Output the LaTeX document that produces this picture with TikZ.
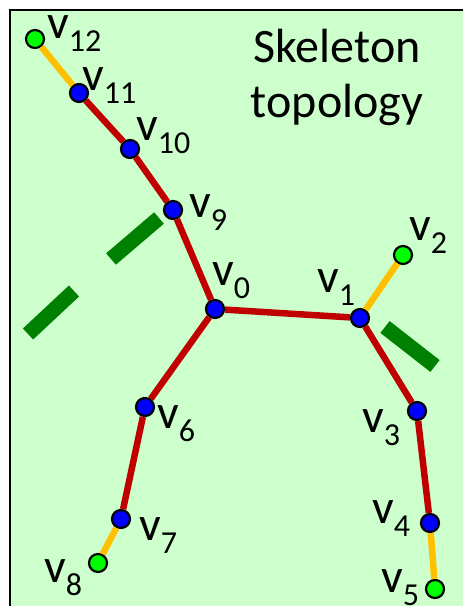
\documentclass[tikz,border=0pt]{standalone}
\usepackage{fontspec}
\setmainfont{Carlito}
\usepackage{xcolor}
\definecolor{panelgreen}{RGB}{204,255,204}
\definecolor{bonered}{RGB}{192,0,0}
\definecolor{tipgold}{RGB}{255,192,0}
\definecolor{jointblue}{RGB}{0,0,255}
\definecolor{tipgreen}{RGB}{0,255,0}
\definecolor{cutgreen}{RGB}{0,128,0}
\newcommand{\vsub}[1]{v\raisebox{-13pt}{\fontsize{32}{32}\selectfont #1}}
\usepackage{tikz}
\usetikzlibrary{positioning}

\begin{document}
\begin{tikzpicture}[x=1pt, y=-1pt,
  joint/.style={circle, draw=black, line width=2.2pt, fill=jointblue, minimum size=18pt, inner sep=0pt},
  endjoint/.style={joint, fill=tipgreen},
  bone/.style={bonered, line width=6.5pt},
  tip/.style={tipgold, line width=6.5pt},
  cut/.style={cutgreen, line width=15pt},
  vlabel/.style={anchor=base west, inner sep=0pt, font=\fontsize{48}{48}\selectfont}
]
\useasboundingbox (0,0) rectangle (463,606);
\clip (0,0) rectangle (463,606);
\draw[fill=panelgreen, line width=2pt] (10,10) rectangle (480,620);
\node[align=center, inner sep=0pt, anchor=north, font=\fontsize{48}{55}\selectfont] (title) at (337,29) {Skeleton\\topology};
% cut marks
\draw[cut] (111,259) -- (159,218);
\draw[cut] (28,334) -- (74,291);
\draw[cut] (385,327) -- (435,366);
% joints
\node[joint] (v0) at (215,309) {};
\node[joint] (v1) at (360,318) {};
\node[endjoint] (v2) at (403,255) {};
\node[joint] (v3) at (417,411) {};
\node[joint] (v4) at (430,523) {};
\node[endjoint] (v5) at (435,589) {};
\node[joint] (v6) at (145,407) {};
\node[joint] (v7) at (121,519) {};
\node[endjoint] (v8) at (98,563) {};
\node[joint] (v9) at (173,210) {};
\node[joint] (v10) at (130,149) {};
\node[joint] (v11) at (79,93) {};
\node[endjoint] (v12) at (35,39) {};
% bones
\draw[tip] (v12) -- (v11);
\draw[bone] (v11) -- (v10);
\draw[bone] (v10) -- (v9);
\draw[bone] (v9) -- (v0);
\draw[bone] (v0) -- (v1);
\draw[tip] (v1) -- (v2);
\draw[bone] (v1) -- (v3);
\draw[bone] (v3) -- (v4);
\draw[tip] (v4) -- (v5);
\draw[bone] (v0) -- (v6);
\draw[bone] (v6) -- (v7);
\draw[tip] (v7) -- (v8);
% labels
\node[vlabel] (l0) at (212,285) {\vsub{0}};
\node[vlabel] (l1) at (317,292) {\vsub{1}};
\node[vlabel] (l2) at (409,240) {\vsub{2}};
\node[vlabel] (l3) at (362,432) {\vsub{3}};
\node[vlabel] (l4) at (372,523) {\vsub{4}};
\node[vlabel] (l5) at (381,592) {\vsub{5}};
\node[vlabel] (l6) at (157,428) {\vsub{6}};
\node[vlabel] (l7) at (139,540) {\vsub{7}};
\node[vlabel] (l8) at (44,582) {\vsub{8}};
\node[vlabel] (l9) at (189,217) {\vsub{9}};
\node[vlabel] (l10) at (136,140) {\vsub{10}};
\node[vlabel] (l11) at (82,90) {\vsub{11}};
\node[vlabel] (l12) at (47,38) {\vsub{12}};
\end{tikzpicture}
\end{document}
